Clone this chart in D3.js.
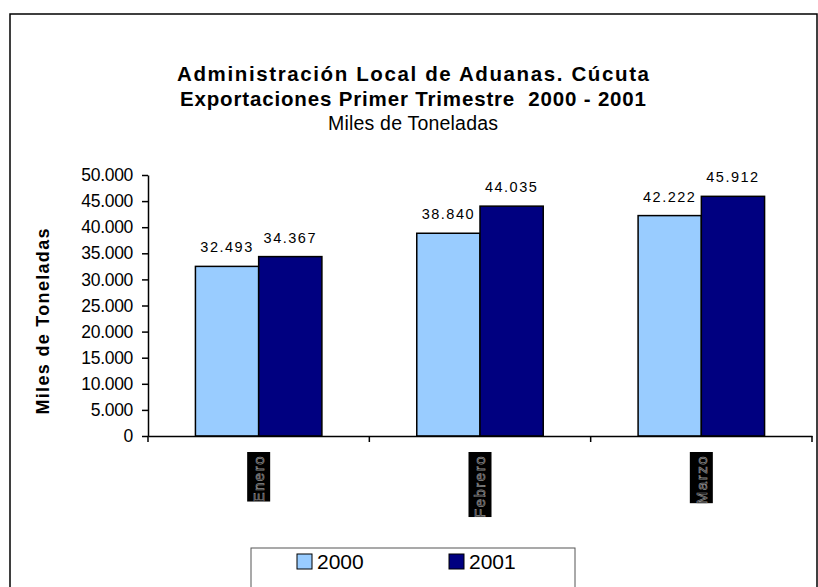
<!DOCTYPE html>
<html>
<head>
<meta charset="utf-8">
<script src="https://cdn.jsdelivr.net/npm/d3@7"></script>
<style>
  body { margin: 0; background: #fff; }
  svg { display: block; font-family: "Liberation Sans", Arial, sans-serif; }
</style>
</head>
<body>
<svg width="818" height="587"></svg>
<script>
const months = ["Enero", "Febrero", "Marzo"];
const seriesNames = ["2000", "2001"];
const values2000 = [32493, 38840, 42222];
const values2001 = [34367, 44035, 45912];
const yTicks = [0, 5000, 10000, 15000, 20000, 25000, 30000, 35000, 40000, 45000, 50000];
const colors = ["#99CCFF", "#000080"];

const data = months.map((m, i) => ({ month: m, vals: [values2000[i], values2001[i]] }));
const fmt = (v) => d3.format(",")(v).replace(/,/g, ".");

const svg = d3.select("svg");
const margin = { left: 148, right: 6, top: 175, bottom: 151 };
const width = 818, height = 587;

// outer frame
svg.append("rect")
  .attr("x", 10).attr("y", 14)
  .attr("width", 807).attr("height", 600)
  .attr("fill", "none").attr("stroke", "#000").attr("stroke-width", 1.5);

// titles (Excel stretches the letter spacing, so fit each line to its width)
const titles = [
  { t: "Administración Local de Aduanas. Cúcuta", y: 81, w: "bold", len: 472, fs: 20.5 },
  { t: "Exportaciones Primer Trimestre  2000 - 2001", y: 106, w: "bold", len: 466, fs: 20.5 },
  { t: "Miles de Toneladas", y: 130, w: "normal", len: 170, fs: 19.5 }
];
svg.append("g").selectAll("text").data(titles).join("text")
  .attr("x", 413).attr("y", (d) => d.y)
  .attr("text-anchor", "middle")
  .attr("font-size", (d) => d.fs)
  .attr("font-weight", (d) => d.w)
  .attr("textLength", (d) => d.len)
  .attr("lengthAdjust", "spacing")
  .style("white-space", "pre")
  .text((d) => d.t);

const x = d3.scaleBand().domain(months).range([margin.left, width - margin.right]);
const y = d3.scaleLinear().domain([0, 50000]).range([height - margin.bottom, margin.top]);
const bw = x.bandwidth() / 3.5;

// bars
const groups = svg.append("g").selectAll("g").data(data).join("g");
groups.selectAll("rect")
  .data((d) => d.vals.map((v, i) => ({ month: d.month, v, i })))
  .join("rect")
  .attr("x", (d) => x(d.month) + x.bandwidth() / 2 - bw + d.i * bw)
  .attr("y", (d) => y(d.v))
  .attr("width", bw)
  .attr("height", (d) => y(0) - y(d.v))
  .attr("fill", (d) => colors[d.i])
  .attr("stroke", "#000").attr("stroke-width", 1.5);

groups.selectAll("text")
  .data((d) => d.vals.map((v, i) => ({ month: d.month, v, i })))
  .join("text")
  .attr("x", (d) => x(d.month) + x.bandwidth() / 2 - bw + d.i * bw + bw / 2)
  .attr("y", (d) => y(d.v) - 14)
  .attr("text-anchor", "middle")
  .attr("font-size", 14.5)
  .attr("letter-spacing", 1.5)
  .text((d) => fmt(d.v));

// y axis
const yAxis = svg.append("g")
  .attr("transform", `translate(${margin.left},0)`)
  .call(d3.axisLeft(y).tickValues(yTicks).tickFormat(fmt).tickSize(6).tickSizeOuter(0));
yAxis.select(".domain").attr("stroke-width", 1.5);
yAxis.selectAll(".tick line").attr("stroke-width", 1.5);
yAxis.selectAll("text").attr("font-size", 17.5).attr("font-family", "Liberation Sans, Arial, sans-serif")
  .attr("x", -15).attr("letter-spacing", -0.3).attr("fill", "#000");

// x axis
const xAxis = svg.append("g")
  .attr("transform", `translate(0,${y(0)})`)
  .call(d3.axisBottom(x).tickSize(0).tickFormat(""));
xAxis.select(".domain").attr("stroke-width", 1.5);
const bounds = [margin.left, ...months.map((m) => x(m) + x.bandwidth())];
xAxis.selectAll(".sep").data(bounds).join("line")
  .attr("class", "sep")
  .attr("x1", (d) => d).attr("x2", (d) => d)
  .attr("y1", 0).attr("y2", 6)
  .attr("stroke", "#000").attr("stroke-width", 1.5);

// x category labels: rotated text on black boxes
const lab = svg.append("g").selectAll("g").data(months).join("g")
  .attr("transform", (d) => `translate(${x(d) + x.bandwidth() / 2},452)`);
lab.each(function (d) {
  const g = d3.select(this);
  const rect = g.append("rect").attr("fill", "#000");
  const t = g.append("text")
    .attr("transform", "rotate(-90)")
    .attr("text-anchor", "end")
    .attr("dy", "0.35em")
    .attr("x", -3)
    .attr("font-size", 15)
    .attr("letter-spacing", 1.5)
    .attr("fill", "none")
    .attr("stroke", "#8a8a8a")
    .attr("stroke-width", 0.7)
    .text(d);
  const len = t.node().getComputedTextLength();
  rect.attr("x", -11.5).attr("y", 0).attr("width", 23).attr("height", len + 2);
});

// y title
svg.append("text")
  .attr("transform", `translate(49,${(y(0) + y(50000)) / 2 + 16}) rotate(-90)`)
  .attr("text-anchor", "middle")
  .attr("font-size", 18)
  .attr("font-weight", "bold")
  .attr("textLength", 186)
  .attr("lengthAdjust", "spacing")
  .text("Miles de Toneladas");

// legend
const legend = svg.append("g");
legend.append("rect")
  .attr("x", 251).attr("y", 548).attr("width", 324).attr("height", 50)
  .attr("fill", "#fff").attr("stroke", "#555").attr("stroke-width", 1);
const items = legend.selectAll("g").data(seriesNames).join("g")
  .attr("transform", (d, i) => `translate(${297 + i * 152},554)`);
items.append("rect")
  .attr("width", 15).attr("height", 15)
  .attr("fill", (d, i) => colors[i]).attr("stroke", "#000").attr("stroke-width", 1);
items.append("text")
  .attr("x", 20).attr("y", 15)
  .attr("font-size", 21)
  .text((d) => d);
</script>
</body>
</html>
